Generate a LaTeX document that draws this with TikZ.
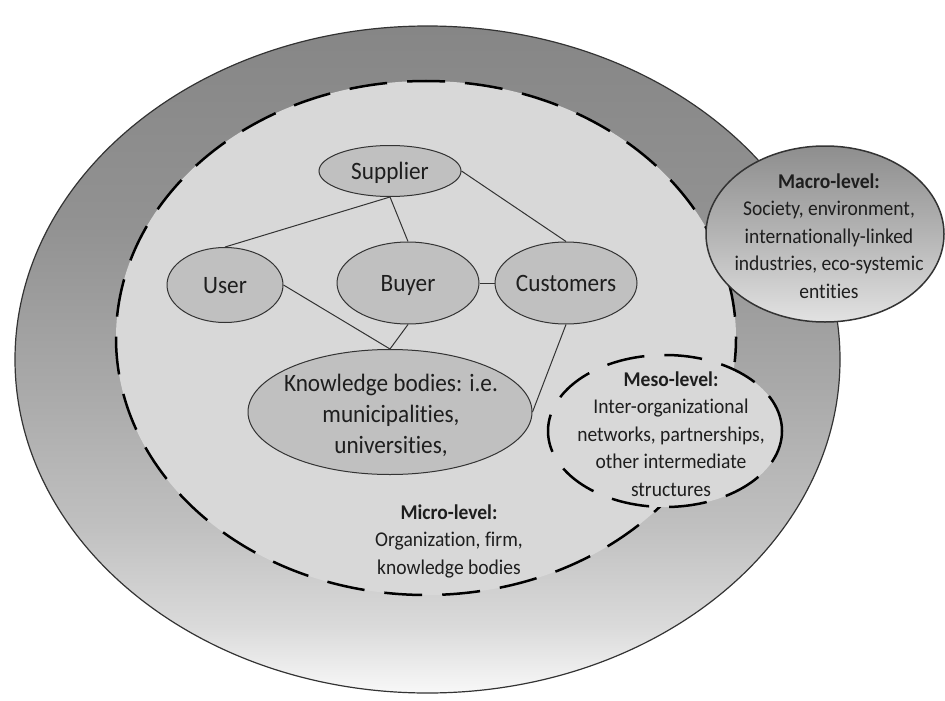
\documentclass[tikz,border=0pt]{standalone}
\usepackage{fontspec}
\setmainfont{Carlito}[Ligatures={NoCommon,NoRequired,NoContextual}, FakeStretch=0.93]
\usetikzlibrary{shapes.geometric}

% colours
\definecolor{inkc}{HTML}{1E1E1E}
\definecolor{edgec}{HTML}{333333}
\definecolor{innerfill}{HTML}{D8D8D8}
\definecolor{nodefill}{HTML}{C0C0C0}
\definecolor{rA}{HTML}{F8F8F8}
\definecolor{rB}{HTML}{DADADA}
\definecolor{rC}{HTML}{C0C0C0}
\definecolor{rD}{HTML}{AAAAAA}
\definecolor{rE}{HTML}{929292}
\definecolor{rF}{HTML}{868686}
\definecolor{mA}{HTML}{E2E2E2}
\definecolor{mB}{HTML}{B4B4B4}
\definecolor{mC}{HTML}{8E8E8E}

% vertical shading of the outer ring (bottom to top)
\pgfdeclareverticalshading{ringshade}{100bp}{%
  color(0bp)=(rA); color(25bp)=(rA); color(30bp)=(rB); color(37.5bp)=(rC);
  color(47.5bp)=(rD); color(60bp)=(rE); color(75bp)=(rF); color(100bp)=(rF)}
\pgfdeclareverticalshading{macroshade}{100bp}{%
  color(0bp)=(mA); color(25bp)=(mA); color(50bp)=(mB); color(75bp)=(mC); color(100bp)=(mC)}

\tikzset{
  actor/.style={ellipse, draw=edgec, line width=1pt, fill=nodefill, inner sep=0pt,
    text=inkc, font=\fontsize{25}{31}\selectfont, text height=16pt, text depth=0pt},
  levelring/.style={draw=edgec, line width=1.2pt},
  levelzone/.style={draw=black, line width=2.5pt, dash pattern=on 38pt off 20pt, fill=innerfill},
  caption/.style={align=center, text=inkc, inner sep=0pt, font=\fontsize{21}{27.5}\selectfont},
  link/.style={draw=edgec, line width=1pt},
}

\begin{document}
\begin{tikzpicture}[x=1pt, y=-1pt]
\useasboundingbox (0,0) rectangle (945,701);

% outer ring: macro context
\node[ellipse, levelring, shading=ringshade, minimum width=825pt, minimum height=667pt,
      inner sep=0pt] (outer) at (427.5,359.5) {};

% micro-level zone
\node[ellipse, levelzone, dash phase=36.7pt, minimum width=620pt, minimum height=514pt,
      inner sep=0pt] (micro) at (426,338) {};

% meso-level bubble
\node[ellipse, levelzone, minimum width=234pt, minimum height=152pt, inner sep=0pt]
      (meso) at (665,431) {};

% macro-level bubble
\node[ellipse, draw=edgec, line width=1.5pt, shading=macroshade, minimum width=238pt,
      minimum height=176pt, inner sep=0pt] (macro) at (825,234) {};

% actors
\node[actor, minimum width=142pt, minimum height=51pt] (sup) at (390,171) {Supplier};
\node[actor, minimum width=116pt, minimum height=75pt] (usr) at (225,285) {User};
\node[actor, minimum width=142pt, minimum height=82pt] (buy) at (408,283) {Buyer};
\node[actor, minimum width=142pt, minimum height=82pt] (cus) at (566,283) {Customers};
\node[actor, minimum width=284pt, minimum height=125pt] (kb) at (390,412) {};
\node[align=center, text=inkc, inner sep=0pt, font=\fontsize{25}{31}\selectfont]
      (kbtext) at (391,415) {Knowledge bodies: i.e.\\municipalities,\\universities,};

% links between actors
\draw[link] (sup.south) -- (usr.north);
\draw[link] (sup.south) -- (buy.north);
\draw[link] (sup.east) -- (cus.north);
\draw[link] (buy.east) -- (cus.west);
\draw[link] (usr.east) -- (kb.north);
\draw[link] (buy.south) -- (kb.north);
\draw[link] (cus.south) -- (kb.east);

% level captions
\node[caption] (microtext) at (449,541)
  {\textbf{Micro-level:}\\Organization, firm,\\knowledge bodies};
\node[caption] (mesotext) at (671,434)
  {\textbf{Meso-level:}\\Inter-organizational\\networks, partnerships,\\other intermediate\\structures};
\node[caption] (macrotext) at (829,236)
  {\textbf{Macro-level:}\\Society, environment,\\internationally-linked\\industries, eco-systemic\\entities};
\end{tikzpicture}
\end{document}
